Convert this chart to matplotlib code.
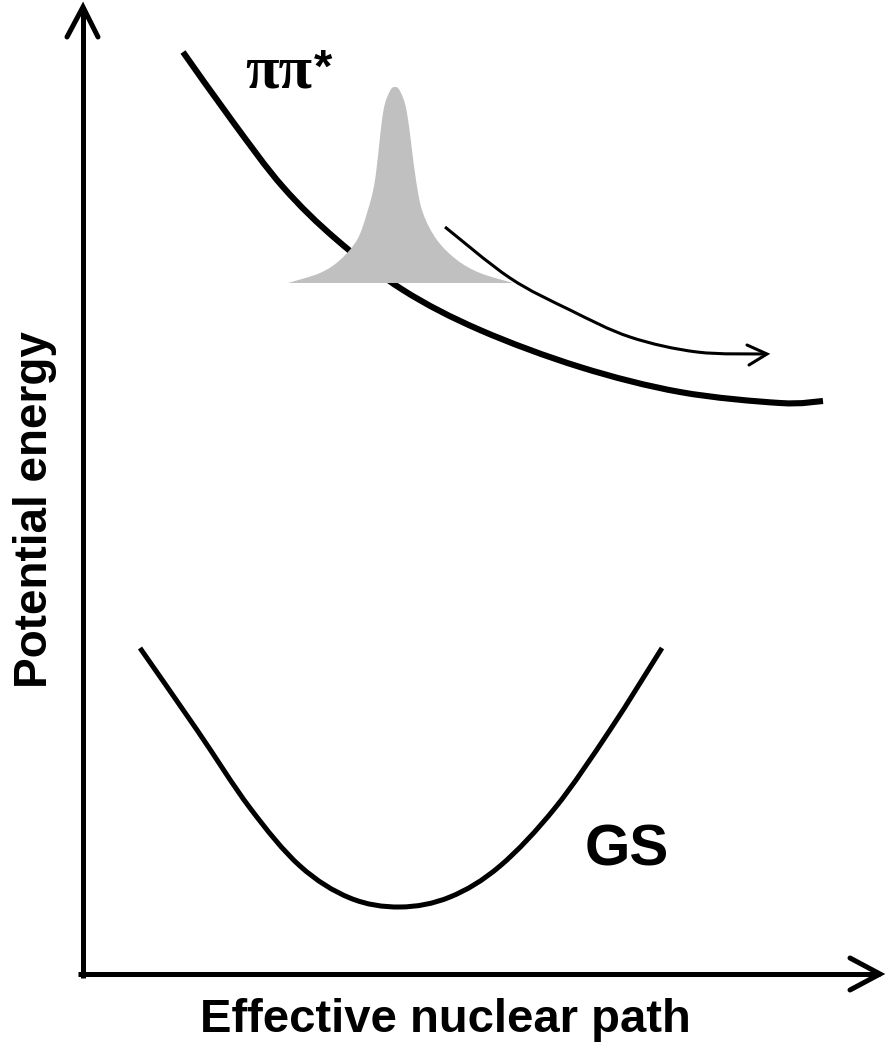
import numpy as np
import matplotlib.pyplot as plt
from matplotlib.path import Path
from matplotlib.patches import PathPatch

# Potential energy sketch: excited state (pi-pi*) and ground state curves
# Coordinates are read off the picture (pixel units, y grows downward)

# excited state curve
pp_x = [183, 233, 283, 337, 403, 480, 580, 680, 780, 823]
pp_y = [52, 122, 187, 240, 290, 330, 367, 392, 403, 401]

# ground state curve
gs_x = [140, 197, 250, 300, 350, 400, 450, 500, 555, 610, 662]
gs_y = [648, 730, 808, 866, 898, 907, 897, 866, 808, 730, 648]

# wavepacket on the excited state
packet_x = [288, 320, 340, 357, 367, 375, 383, 390, 395, 400, 407, 416, 423, 437, 457, 480, 513]
packet_h = [0, 10, 23, 43, 70, 103, 170, 192, 196, 192, 170, 103, 70, 43, 23, 10, 0]
packet_base = 283

# thin arrow showing the motion of the packet
path_x = [445, 510, 570, 630, 697, 765]
path_y = [227, 278, 310, 337, 352, 354]

# axis frame
y_axis = ([83, 83], [978, 7])
x_axis = ([78, 880], [974, 974])


def smooth_path(xs, ys):
    # Catmull-Rom through the points, drawn as cubic Bezier segments
    p = np.column_stack([xs, ys]).astype(float)
    ext = np.vstack([p[0], p, p[-1]])
    verts = [p[0]]
    codes = [Path.MOVETO]
    for i in range(1, len(ext) - 2):
        c1 = ext[i] + (ext[i + 1] - ext[i - 1]) / 6
        c2 = ext[i + 1] - (ext[i + 2] - ext[i]) / 6
        verts += [c1, c2, ext[i + 1]]
        codes += [Path.CURVE4] * 3
    return verts, codes


def draw_curve(ax, xs, ys, lw, z=2):
    verts, codes = smooth_path(xs, ys)
    ax.add_patch(PathPatch(Path(verts, codes), facecolor='none', edgecolor='black',
                           lw=lw, capstyle='butt', zorder=z))


fig = plt.figure(figsize=(8.9, 10.48), dpi=100)
ax = fig.add_axes([0, 0, 1, 1])
ax.set_xlim(0, 890)
ax.set_ylim(1048, 0)
ax.axis('off')

# axes with open arrow heads
ax.plot(*y_axis, color='black', lw=3.6, solid_capstyle='butt')
ax.plot(*x_axis, color='black', lw=3.6, solid_capstyle='butt')
ax.plot([y_axis[0][1] - 16, y_axis[0][1], y_axis[0][1] + 15],
        [y_axis[1][1] + 30, y_axis[1][1], y_axis[1][1] + 30],
        color='black', lw=3.6, solid_capstyle='round', solid_joinstyle='miter')
ax.plot([x_axis[0][1] - 30, x_axis[0][1], x_axis[0][1] - 30],
        [x_axis[1][1] - 16, x_axis[1][1], x_axis[1][1] + 16],
        color='black', lw=3.6, solid_capstyle='round', solid_joinstyle='miter')

# curves
draw_curve(ax, pp_x, pp_y, 4.4)
draw_curve(ax, gs_x, gs_y, 3.6)

# wavepacket, closed along its base line
top = packet_base - np.array(packet_h, dtype=float)
verts, codes = smooth_path(packet_x, top)
verts = verts + [verts[0], verts[0]]
codes = codes + [Path.LINETO, Path.CLOSEPOLY]
ax.add_patch(PathPatch(Path(verts, codes), facecolor='#c0c0c0', lw=0, zorder=3))

draw_curve(ax, path_x, path_y, 2.2, z=4)
ax.plot([path_x[-1] - 18, path_x[-1] + 2, path_x[-1] - 16],
        [path_y[-1] - 9, path_y[-1], path_y[-1] + 11],
        color='black', lw=2.2, solid_capstyle='round', solid_joinstyle='miter', zorder=4)

# labels
sans = ['Liberation Sans', 'DejaVu Sans']
ax.text(445, 1020, 'Effective nuclear path', fontsize=34, fontweight='bold',
        family=sans, ha='center', va='center')
ax.text(35, 510, 'Potential energy', fontsize=33, fontweight='bold',
        family=sans, ha='center', va='center', rotation=90)
ax.text(627, 851, 'GS', fontsize=42, fontweight='bold',
        family=sans, ha='center', va='center')
ax.text(245, 88, '\u03c0\u03c0', fontsize=44, fontweight='bold',
        family=['Liberation Serif', 'DejaVu Serif'], ha='left', va='baseline')
ax.text(314, 48, '*', fontsize=34, fontweight='bold',
        family=sans, ha='left', va='top')

fig.savefig('out.png', dpi=100)
